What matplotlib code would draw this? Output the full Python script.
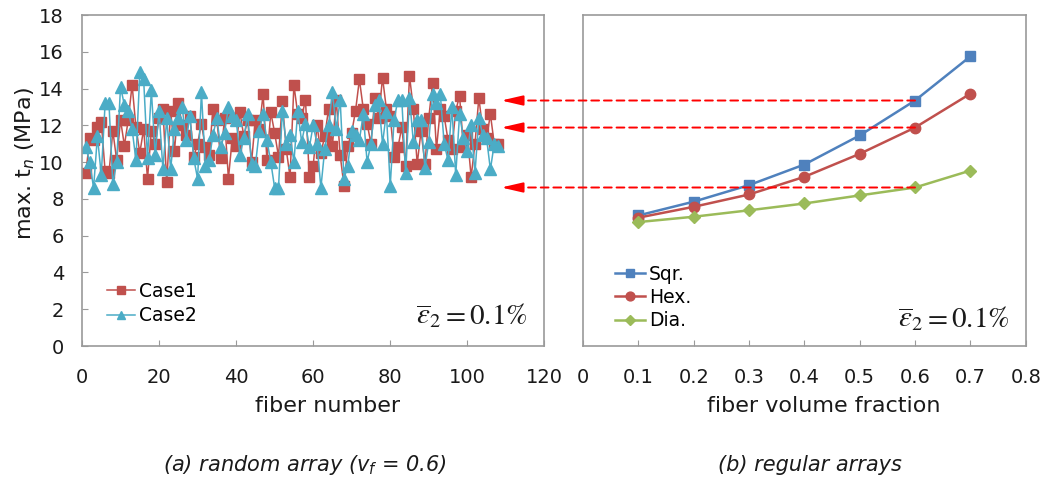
import matplotlib
matplotlib.use("Agg")
import matplotlib.pyplot as plt
from matplotlib.patches import ConnectionPatch

# ---------------- data ----------------
fiber = list(range(1, 109))
case1 = [9.4, 11.3, 11.2, 11.9, 12.2, 9.5, 9.4, 11.7, 10.1, 12.3,
         10.9, 12.3, 14.2, 11.9, 10.5, 11.8, 9.1, 11.7, 11.0, 12.4,
         12.9, 8.9, 12.8, 10.6, 13.2, 12.0, 11.5, 12.5, 10.3, 11.0,
         12.1, 10.8, 10.4, 12.9, 12.3, 10.2, 12.4, 9.1, 11.3, 10.9,
         12.7, 11.4, 12.3, 10.0, 12.3, 11.8, 13.7, 10.1, 12.7, 11.6,
         10.3, 13.3, 10.7, 9.2, 14.2, 12.6, 12.4, 13.4, 9.2, 9.8,
         12.0, 10.5, 11.4, 12.9, 10.9, 13.4, 10.4, 8.7, 10.9, 11.6,
         12.8, 14.5, 12.9, 12.1, 11.0, 13.5, 12.4, 14.6, 12.9, 12.5,
         10.3, 10.8, 11.9, 9.8, 14.7, 12.9, 9.9, 11.7, 9.9, 12.4,
         14.3, 10.7, 12.9, 12.5, 11.2, 10.7, 12.8, 13.6, 10.8, 11.5,
         9.2, 11.0, 13.5, 11.8, 11.3, 12.6, 11.0, 11.0]
case2 = [10.8, 10.0, 8.6, 11.4, 9.3, 13.2, 13.2, 8.8, 10.0, 14.1,
         13.1, 12.8, 11.8, 10.1, 14.9, 14.5, 10.2, 13.9, 10.4, 12.8,
         9.6, 12.4, 9.6, 11.8, 12.4, 13.0, 11.2, 12.5, 10.2, 9.1,
         13.8, 9.8, 10.1, 11.5, 12.4, 10.8, 11.6, 13.0, 12.5, 12.3,
         10.4, 11.3, 12.6, 9.9, 9.8, 11.7, 12.6, 11.2, 10.0, 8.6,
         8.6, 12.8, 11.0, 11.5, 10.0, 12.8, 11.1, 12.1, 10.8, 12.0,
         11.0, 8.6, 10.7, 12.0, 13.8, 11.8, 13.4, 9.1, 9.8, 11.7,
         11.5, 11.2, 12.6, 10.0, 11.0, 13.1, 13.4, 11.0, 12.7, 8.7,
         12.3, 13.4, 13.4, 9.4, 13.5, 11.1, 12.3, 12.3, 9.7, 11.1,
         13.7, 13.2, 13.7, 11.0, 10.1, 13.0, 9.3, 12.6, 11.3, 10.6,
         12.0, 9.4, 12.4, 11.5, 11.3, 9.6, 11.0, 10.9]

vf = [0.1, 0.2, 0.3, 0.4, 0.5, 0.6, 0.7]
sqr = [7.1, 7.85, 8.75, 9.87, 11.45, 13.35, 15.75]
hexa = [6.98, 7.57, 8.24, 9.2, 10.45, 11.88, 13.72]
dia = [6.74, 7.03, 7.38, 7.75, 8.19, 8.62, 9.54]

left_xticks = [0, 20, 40, 60, 80, 100, 120]
right_xticks = [0, 0.1, 0.2, 0.3, 0.4, 0.5, 0.6, 0.7, 0.8]
right_xticklabels = ["0", "0.1", "0.2", "0.3", "0.4", "0.5", "0.6", "0.7", "0.8"]
yticks = [0, 2, 4, 6, 8, 10, 12, 14, 16, 18]

RED = "#C0504D"
CYAN = "#4BACC6"
BLUE = "#4F81BD"
GREEN = "#9BBB59"
SPINE = "#9a9a9a"
TXT = "#1a1a1a"

plt.rcParams["font.family"] = ["DejaVu Sans"]

fig = plt.figure(figsize=(10.46, 4.84), dpi=100)
ax1 = fig.add_axes([0.0784, 0.2851, 0.442, 0.6839])
ax2 = fig.add_axes([0.5574, 0.2851, 0.4232, 0.6839])

for ax in (ax1, ax2):
    for s in ax.spines.values():
        s.set_color(SPINE)
        s.set_linewidth(1.2)
    ax.set_ylim(0, 18)
    ax.set_yticks(yticks)

# ---- left panel ----
ax1.plot(fiber, case1, color=RED, lw=1.1, marker="s", ms=7.5,
         mfc=RED, mec=RED, label="Case1")
ax1.plot(fiber, case2, color=CYAN, lw=1.1, marker="^", ms=8.5,
         mfc=CYAN, mec=CYAN, label="Case2")
ax1.set_xlim(0, 120)
ax1.set_xticks(left_xticks)
ax1.tick_params(axis="x", direction="in", length=4, color=SPINE,
                labelsize=14, pad=16, labelcolor=TXT)
ax1.tick_params(axis="y", direction="in", length=4, color=SPINE,
                labelsize=14, pad=13, labelcolor=TXT)
ax1.set_xlabel("fiber number", fontsize=16, color=TXT)
ax1.xaxis.set_label_coords(0.531, -0.15)
ax1.set_ylabel("max. t$_n$ (MPa)", fontsize=16, color=TXT)
ax1.yaxis.set_label_coords(-0.097, 0.55)
ax1.legend(loc="lower left", bbox_to_anchor=(0.054, 0.063),
           frameon=False, fontsize=13.5, borderpad=0, borderaxespad=0,
           handlelength=1.5, handletextpad=0.2, labelspacing=0.3,
           markerscale=0.75)
ax1.text(0.963, 0.066, r"$\overline{\varepsilon}_2 = 0.1\%$",
         transform=ax1.transAxes, ha="right", va="baseline", fontsize=21,
         math_fontfamily="stix", color=TXT)

# ---- right panel ----
ax2.plot(vf, sqr, color=BLUE, lw=1.8, marker="s", ms=7, label="Sqr.")
ax2.plot(vf, hexa, color=RED, lw=1.8, marker="o", ms=7.5, label="Hex.")
ax2.plot(vf, dia, color=GREEN, lw=1.8, marker="D", ms=6.5, label="Dia.")
ax2.set_xlim(0, 0.8)
ax2.set_xticks(right_xticks)
ax2.set_xticklabels(right_xticklabels)
ax2.tick_params(axis="x", direction="in", length=4, color=SPINE,
                labelsize=14, pad=16, labelcolor=TXT)
ax2.tick_params(axis="y", left=False, labelleft=False)
ax2.set_xlabel("fiber volume fraction", fontsize=16, color=TXT)
ax2.xaxis.set_label_coords(0.544, -0.15)
ax2.legend(loc="lower left", bbox_to_anchor=(0.072, 0.048),
           frameon=False, fontsize=13.5, borderpad=0, borderaxespad=0,
           handlelength=1.6, handletextpad=0.2, labelspacing=0.22,
           markerscale=0.85)
ax2.text(0.964, 0.057, r"$\overline{\varepsilon}_2 = 0.1\%$",
         transform=ax2.transAxes, ha="right", va="baseline", fontsize=21,
         math_fontfamily="stix", color=TXT)

# ---- red dashed arrows linking the panels ----
arrow_y = [sqr[5], hexa[5], dia[5]]
for yv in arrow_y:
    line = ConnectionPatch(xyA=(vf[5], yv), coordsA=ax2.transData,
                           xyB=(113.5, yv), coordsB=ax1.transData,
                           color="red", lw=1.4, ls=(0, (4, 2.5)))
    fig.add_artist(line)
    head = ConnectionPatch(xyA=(114.0, yv), coordsA=ax1.transData,
                           xyB=(108.8, yv), coordsB=ax1.transData,
                           arrowstyle="-|>,head_length=1.3,head_width=0.3",
                           mutation_scale=10, color="red", lw=1.4)
    fig.add_artist(head)

# ---- captions ----
fig.text(305 / 1046, 1 - 465 / 484, "(a) random array (v$_f$ = 0.6)",
         ha="center", va="center", fontsize=15, style="italic", color=TXT)
fig.text(810 / 1046, 1 - 465 / 484, "(b) regular arrays",
         ha="center", va="center", fontsize=15, style="italic", color=TXT)

fig.savefig("out.png", dpi=100)
